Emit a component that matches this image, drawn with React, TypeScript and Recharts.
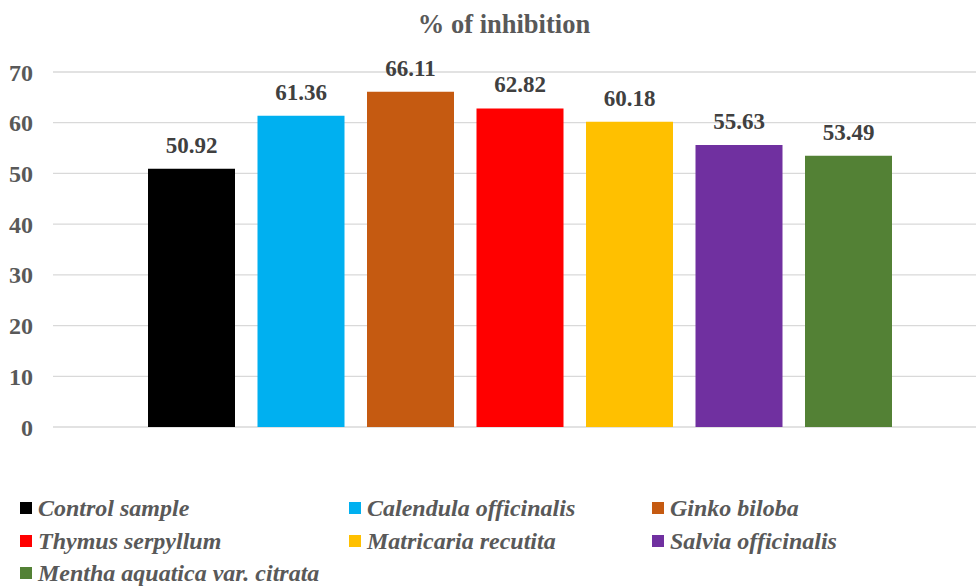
import { BarChart, Bar, XAxis, YAxis, CartesianGrid, LabelList, Legend } from 'recharts'

const seriesKeys = ['control', 'calendula', 'ginko', 'thymus', 'matricaria', 'salvia', 'mentha']
const seriesNames = [
  'Control sample',
  'Calendula officinalis',
  'Ginko biloba',
  'Thymus serpyllum',
  'Matricaria recutita',
  'Salvia officinalis',
  'Mentha aquatica var. citrata',
]
const seriesValues = [50.92, 61.36, 66.11, 62.82, 60.18, 55.63, 53.49]
const seriesColors = ['#000000', '#00B0F0', '#C55A11', '#FF0000', '#FFC000', '#7030A0', '#538135']
const yTicks = [0, 10, 20, 30, 40, 50, 60, 70]

// one category, one column per extract
const row: Record<string, string | number> = { name: '' }
seriesKeys.forEach((k, i) => {
  row[k] = seriesValues[i]
})
const data = [row]

const FONT = '"Liberation Serif", "Times New Roman", serif'
const legendCols = [329, 303, 300]

// legend keeps series order, three per row
const LegendGrid = () => {
  const entries = seriesNames.map((name, i) => ({ value: name, color: seriesColors[i] }))
  const rows: { value: string; color: string }[][] = []
  for (let i = 0; i < entries.length; i += 3) rows.push(entries.slice(i, i + 3))
  return (
    <div style={{ fontFamily: FONT, fontSize: 24, fontWeight: 'bold', fontStyle: 'italic', color: '#595959' }}>
      {rows.map((r, ri) => (
        <div key={ri} style={{ display: 'flex', height: 32.7, alignItems: 'center' }}>
          {r.map((entry, ci) => (
            <div
              key={ci}
              style={{ width: legendCols[ci], display: 'flex', alignItems: 'center', whiteSpace: 'nowrap' }}
            >
              <span style={{ width: 12, height: 12, background: entry.color, marginRight: 6, flex: 'none' }} />
              <span style={{ lineHeight: 1 }}>{entry.value}</span>
            </div>
          ))}
        </div>
      ))}
    </div>
  )
}

export default function App() {
  return (
    <div style={{ position: 'relative', width: 976, height: 586, background: '#fff', overflow: 'hidden' }}>
      <style>{`body{margin:0}`}</style>
      <div
        style={{
          position: 'absolute',
          top: 10.8,
          left: 504,
          transform: 'translateX(-50%)',
          whiteSpace: 'nowrap',
          fontFamily: FONT,
          fontSize: 26.5,
          lineHeight: 1,
          fontWeight: 'bold',
          color: '#595959',
          zIndex: 1,
        }}
      >
        % of inhibition
      </div>
      <BarChart
        width={976}
        height={586}
        data={data}
        margin={{ top: 72, right: -11, bottom: 159, left: 0 }}
        barSize={87}
        barGap={22.5}
      >
        <CartesianGrid vertical={false} stroke="#d9d9d9" strokeWidth={1.3} />
        <XAxis
          dataKey="name"
          tick={false}
          tickLine={false}
          height={0}
          axisLine={{ stroke: '#d9d9d9', strokeWidth: 1.6 }}
        />
        <YAxis
          width={53}
          domain={[0, 70]}
          ticks={yTicks}
          axisLine={false}
          tickLine={false}
          tickSize={0}
          tickMargin={20}
          tick={{ fontFamily: FONT, fontSize: 24, fontWeight: 'bold', fill: '#595959' }}
        />
        {seriesKeys.map((k, i) => (
          <Bar key={k} dataKey={k} name={seriesNames[i]} fill={seriesColors[i]} isAnimationActive={false}>
            <LabelList
              dataKey={k}
              position="top"
              offset={16}
              formatter={(v: number) => v.toFixed(2)}
              style={{ fontFamily: FONT, fontSize: 23, fontWeight: 'bold', fill: '#404040' }}
            />
          </Bar>
        ))}
        <Legend
          layout="horizontal"
          verticalAlign="middle"
          align="center"
          content={<LegendGrid />}
          wrapperStyle={{ position: 'absolute', top: 491.6, left: 20, width: 956, height: 100 }}
        />
      </BarChart>
    </div>
  )
}
